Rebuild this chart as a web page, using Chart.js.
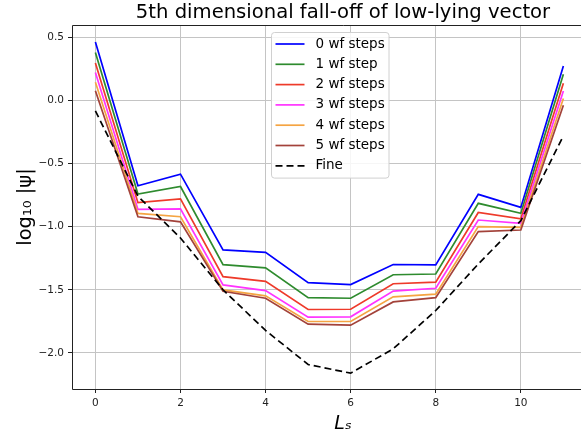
<!DOCTYPE html>
<html>
<head>
<meta charset="utf-8">
<title>5th dimensional fall-off</title>
<script src="https://cdn.jsdelivr.net/npm/chart.js@4.4.0/dist/chart.umd.min.js"></script>
<style>
    html, body { margin: 0; padding: 0; background: #fff; overflow: hidden; width: 581px; height: 436px; }
    #wrap { position: relative; width: 581px; height: 436px; overflow: hidden; }
    #chart { position: absolute; left: 0; top: 0; }
</style>
</head>
<body>
<div id="wrap"><canvas id="chart" width="630" height="436"></canvas></div>
<script>
// Ls values on the x axis
const ls = [0, 1, 2, 3, 4, 5, 6, 7, 8, 9, 10, 11];

// log10 |psi| per number of wf steps
const steps0 = [0.461, -0.677, -0.585, -1.185, -1.204, -1.443, -1.459, -1.300, -1.303, -0.745, -0.848, 0.271];
const steps1 = [0.377, -0.743, -0.683, -1.301, -1.327, -1.562, -1.567, -1.381, -1.375, -0.816, -0.895, 0.205];
const steps2 = [0.295, -0.811, -0.781, -1.396, -1.433, -1.656, -1.654, -1.452, -1.440, -0.888, -0.938, 0.134];
const steps3 = [0.219, -0.864, -0.860, -1.461, -1.506, -1.717, -1.714, -1.510, -1.488, -0.948, -0.974, 0.073];
const steps4 = [0.142, -0.896, -0.922, -1.501, -1.548, -1.751, -1.751, -1.556, -1.535, -1.000, -1.006, 0.013];
const steps5 = [0.074, -0.922, -0.962, -1.512, -1.567, -1.772, -1.780, -1.596, -1.562, -1.040, -1.027, -0.040];
const fine   = [-0.085, -0.760, -1.090, -1.500, -1.822, -2.091, -2.160, -1.967, -1.664, -1.296, -0.953, -0.282];

const labels = ["0 wf steps", "1 wf step", "2 wf steps", "3 wf steps", "4 wf steps", "5 wf steps", "Fine"];
const xTicks = [0, 2, 4, 6, 8, 10];
const yTicks = [0.5, 0.0, -0.5, -1.0, -1.5, -2.0];

const series = [steps0, steps1, steps2, steps3, steps4, steps5, fine];
const colors = ["#0000ff", "#2e8b2e", "#ee3a2a", "#ff33ff", "#f5a442", "#a3423a", "#000000"];

Chart.defaults.font.family = "'DejaVu Sans', sans-serif";
Chart.defaults.color = "#222";

const datasets = series.map(function (vals, i) {
    return {
        label: labels[i],
        data: vals.map((v, j) => ({ x: ls[j], y: v })),
        borderColor: colors[i],
        backgroundColor: colors[i],
        borderWidth: 1.7,
        borderDash: i === 6 ? [7, 4] : [],
        pointRadius: 0,
        tension: 0,
        fill: false,
        order: series.length - 1 - i
    };
});

// title above the axes
const figTitle = {
    id: "figTitle",
    afterDraw(chart) {
        const ctx = chart.ctx;
        const a = chart.chartArea;
        ctx.save();
        ctx.font = "19.6px 'DejaVu Sans'";
        ctx.fillStyle = "#000";
        ctx.textAlign = "center";
        ctx.textBaseline = "middle";
        ctx.fillText("5th dimensional fall-off of low-lying vector", (a.left + a.right) / 2, 13);
        ctx.restore();
    }
};

// spines: left, top, bottom (right one falls outside the window)
const frame = {
    id: "frame",
    afterDraw(chart) {
        const ctx = chart.ctx;
        const a = chart.chartArea;
        ctx.save();
        ctx.strokeStyle = "#222";
        ctx.lineWidth = 1;
        ctx.beginPath();
        ctx.moveTo(a.right, a.top + 0.5);
        ctx.lineTo(a.left + 0.5, a.top + 0.5);
        ctx.lineTo(a.left + 0.5, a.bottom + 0.5);
        ctx.lineTo(a.right, a.bottom + 0.5);
        ctx.stroke();
        ctx.restore();
    }
};

// legend inside the plot
const innerLegend = {
    id: "innerLegend",
    afterDraw(chart) {
        const ctx = chart.ctx;
        const a = chart.chartArea;
        const ds = chart.data.datasets;
        const w = 117.5, rowH = 20.3;
        const h = rowH * ds.length + 3.5;
        const left = a.left + 199.5;
        const top = a.top + 7.5;
        ctx.save();
        ctx.fillStyle = "rgba(255,255,255,0.85)";
        ctx.strokeStyle = "#d0d0d0";
        ctx.lineWidth = 1;
        ctx.beginPath();
        ctx.roundRect(left, top, w, h, 3);
        ctx.fill();
        ctx.stroke();
        ctx.font = "13.5px 'DejaVu Sans'";
        ctx.textBaseline = "middle";
        ds.forEach(function (d, i) {
            const y = top + 11.5 + i * rowH;
            ctx.strokeStyle = d.borderColor;
            ctx.lineWidth = d.borderWidth;
            ctx.setLineDash(d.borderDash);
            ctx.beginPath();
            ctx.moveTo(left + 4, y);
            ctx.lineTo(left + 33, y);
            ctx.stroke();
            ctx.setLineDash([]);
            ctx.fillStyle = "#000";
            ctx.fillText(d.label, left + 44, y);
        });
        ctx.restore();
    }
};

const ctx = document.getElementById("chart").getContext("2d");
const chart = new Chart(ctx, {
    type: "line",
    data: { datasets: datasets },
    plugins: [figTitle, frame, innerLegend],
    options: {
        responsive: false,
        animation: false,
        devicePixelRatio: 1,
        layout: { padding: { top: 25, right: 16, left: 0, bottom: 0 } },
        plugins: {
            legend: { display: false },
            tooltip: { enabled: false }
        },
        scales: {
            x: {
                type: "linear",
                min: -0.55,
                max: 12.19,
                afterBuildTicks: function (scale) {
                    scale.ticks = xTicks.map(v => ({ value: v }));
                },
                afterFit: function (scale) { scale.height = 47; },
                ticks: {
                    font: { size: 10.5 },
                    color: "#222",
                    padding: 4,
                    maxRotation: 0,
                    callback: v => String(v)
                },
                grid: { color: "#c4c4c4", lineWidth: 1, tickColor: "#222", tickLength: 4 },
                border: { display: false },
                title: {
                    display: true,
                    text: "Lₛ",
                    font: { size: 19, style: "italic" },
                    color: "#000",
                    padding: { top: 0, bottom: 1 }
                }
            },
            y: {
                type: "linear",
                min: -2.285,
                max: 0.595,
                afterBuildTicks: function (scale) {
                    scale.ticks = yTicks.map(v => ({ value: v }));
                },
                afterFit: function (scale) { scale.width = 72; },
                ticks: {
                    font: { size: 10.5 },
                    color: "#222",
                    padding: 4,
                    callback: v => v.toFixed(1).replace("-", "\u2212")
                },
                grid: { color: "#c4c4c4", lineWidth: 1, tickColor: "#222", tickLength: 4 },
                border: { display: false },
                title: {
                    display: true,
                    text: "log₁₀ |ψ|",
                    font: { size: 19.5 },
                    color: "#000",
                    padding: { top: 14, bottom: 0 }
                }
            }
        }
    }
});
</script>
</body>
</html>
